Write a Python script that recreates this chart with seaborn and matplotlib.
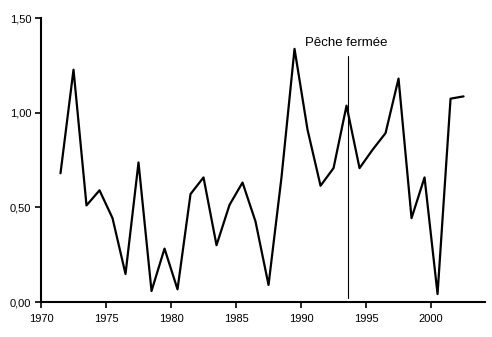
import matplotlib
matplotlib.use("Agg")
import matplotlib.pyplot as plt
import seaborn as sns
import pandas as pd
from matplotlib.ticker import FuncFormatter

years = list(range(1971, 2003))
values = [0.68, 1.227, 0.51, 0.59, 0.443, 0.148, 0.737, 0.058, 0.282, 0.067,
          0.57, 0.658, 0.30, 0.513, 0.631, 0.425, 0.09, 0.66, 1.337, 0.91,
          0.614, 0.707, 1.037, 0.707, 0.804, 0.892, 1.18, 0.443, 0.658, 0.042,
          1.074, 1.086]
closure_year = 1993.6
closure_label = "Pêche fermée"
x_ticks = [1970, 1975, 1980, 1985, 1990, 1995, 2000]
y_ticks = [0.0, 0.5, 1.0, 1.5]

df = pd.DataFrame({"x": [y + 0.5 for y in years], "v": values})

sns.set_theme(style="white")
plt.rcParams["font.family"] = ["Liberation Sans", "DejaVu Sans"]

fig = plt.figure(figsize=(4.92, 3.37), dpi=100)
ax = fig.add_axes([41/492, 35/337, 444/492, 284/337])

sns.lineplot(data=df, x="x", y="v", ax=ax, color="black", linewidth=1.6)

ax.axvline(closure_year, ymin=0.014, ymax=0.866, color="black", linewidth=0.8)
ax.text(closure_year - 0.1, 1.37, closure_label, ha="center", va="center",
        fontsize=9.5, color="black")

ax.set_xlim(1970, 2004.15)
ax.set_ylim(0, 1.5)
ax.set_xticks(x_ticks)
ax.set_yticks(y_ticks)
ax.yaxis.set_major_formatter(FuncFormatter(lambda v, p: f"{v:.2f}".replace(".", ",")))
ax.set_xlabel("")
ax.set_ylabel("")

for s in ["top", "right"]:
    ax.spines[s].set_visible(False)
for s in ["left", "bottom"]:
    ax.spines[s].set_color("black")
    ax.spines[s].set_linewidth(1.5)

ax.tick_params(axis="both", which="major", direction="out", length=4, width=1.2,
               colors="black", labelsize=8, bottom=True, left=True)
ax.tick_params(axis="x", pad=5)
ax.tick_params(axis="y", pad=3)
ax.grid(False)
ax.set_facecolor("white")
fig.patch.set_facecolor("white")

fig.savefig("out.png", dpi=100)
